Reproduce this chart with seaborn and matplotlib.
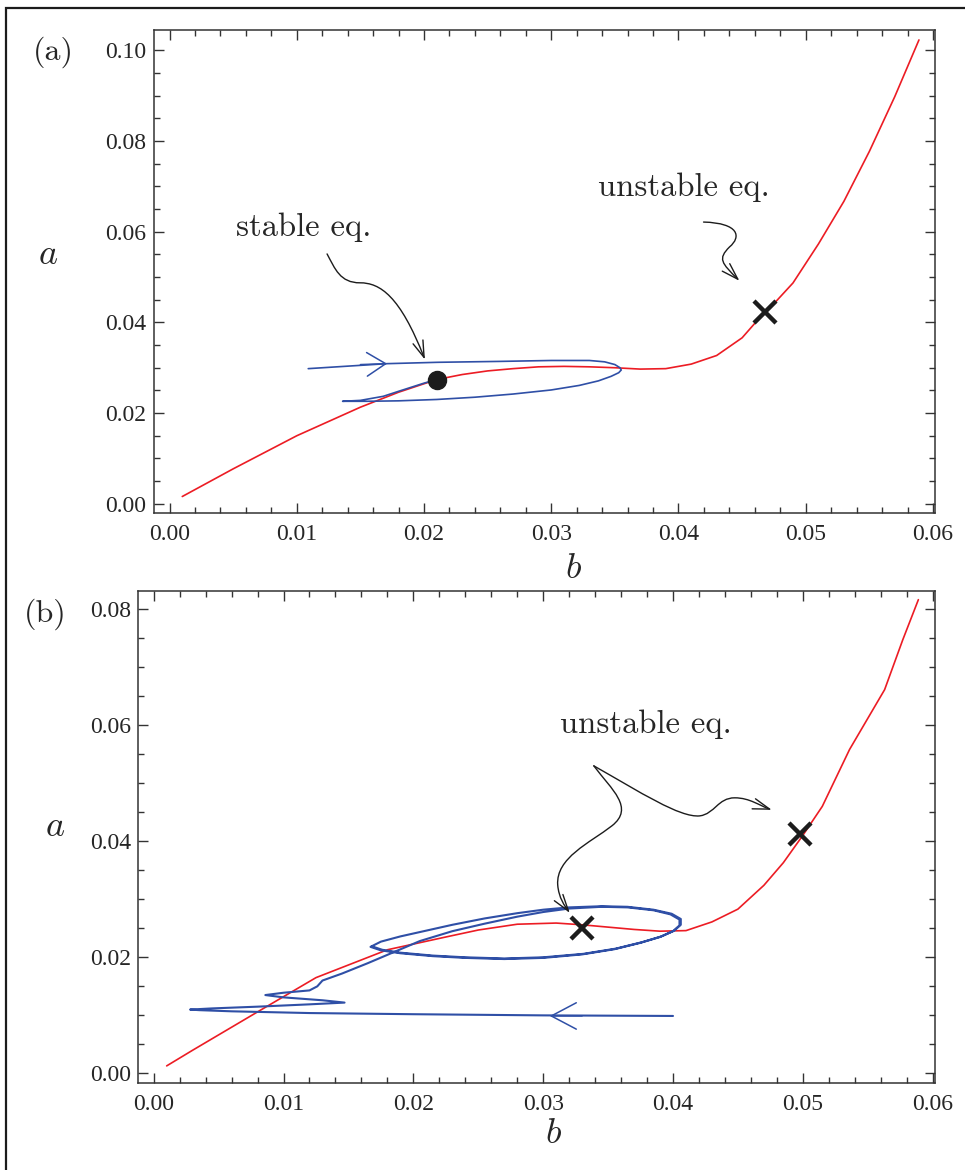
import seaborn as sns
import matplotlib.pyplot as plt
from matplotlib.path import Path
from matplotlib.patches import FancyArrowPatch, Rectangle
from matplotlib.ticker import MultipleLocator, FormatStrFormatter

# ---- panel (a) data ----
red_a_b = [0.001, 0.005, 0.010, 0.015, 0.018, 0.021, 0.023, 0.025, 0.027, 0.029,
           0.031, 0.033, 0.035, 0.037, 0.039, 0.041, 0.043, 0.045, 0.046, 0.047,
           0.049, 0.051, 0.053, 0.055, 0.057, 0.0589]
red_a_a = [0.0016, 0.0077, 0.0150, 0.0213, 0.0246, 0.0274, 0.0285, 0.0293, 0.0298, 0.0302,
           0.0303, 0.0302, 0.0300, 0.0297, 0.0298, 0.0308, 0.0327, 0.0366, 0.0398, 0.0426,
           0.0487, 0.0573, 0.0667, 0.0777, 0.0898, 0.1023]

blue_a_b = [0.0109, 0.0171, 0.0211, 0.0260, 0.0300, 0.0330, 0.0342, 0.0350, 0.0354, 0.0355,
            0.0353, 0.0347, 0.0337, 0.0322, 0.0300, 0.0270, 0.0240, 0.0210, 0.0180, 0.0155,
            0.0136, 0.0150, 0.0168, 0.0180, 0.0190, 0.0200, 0.0210]
blue_a_a = [0.0298, 0.0309, 0.0312, 0.0314, 0.0316, 0.0316, 0.0313, 0.0307, 0.0300, 0.0295,
            0.0289, 0.0281, 0.0271, 0.0261, 0.0251, 0.0242, 0.0235, 0.0230, 0.0227, 0.0226,
            0.0226, 0.0228, 0.0237, 0.0248, 0.0257, 0.0266, 0.0274]

stable_a = (0.0210, 0.0274)
unstable_a = (0.0468, 0.0424)

# ---- panel (b) data ----
red_b_b = [0.001, 0.003, 0.008, 0.0125, 0.018, 0.0225, 0.025, 0.028, 0.031, 0.033,
           0.035, 0.037, 0.039, 0.041, 0.043, 0.045, 0.047, 0.0485, 0.050, 0.0515,
           0.0536, 0.0563, 0.0577, 0.0589]
red_b_a = [0.0013, 0.0040, 0.0106, 0.0165, 0.0213, 0.0235, 0.0247, 0.0257, 0.0259, 0.0256,
           0.0252, 0.0248, 0.0245, 0.0246, 0.0261, 0.0283, 0.0324, 0.0363, 0.0410, 0.0460,
           0.0558, 0.0661, 0.0747, 0.0816]

blue_b_b = [0.0400, 0.0300, 0.0200, 0.0120, 0.0060, 0.0035, 0.0028,
            0.0045, 0.0080, 0.0120, 0.0147,
            0.0130, 0.0100, 0.0086,
            0.0100, 0.0120, 0.0126, 0.0130, 0.0145, 0.0165, 0.0185, 0.0205,
            0.0230, 0.0255, 0.0280, 0.0300, 0.0320, 0.0345, 0.0365, 0.0385, 0.0398,
            0.0405, 0.0405, 0.0400, 0.0390, 0.0375, 0.0355, 0.0330, 0.0300, 0.0270,
            0.0240, 0.0215, 0.0190, 0.0175, 0.0167,
            0.0175, 0.0190, 0.0210, 0.0230, 0.0255, 0.0280, 0.0300, 0.0320, 0.0345,
            0.0365, 0.0385, 0.0399, 0.0406, 0.0406, 0.0401, 0.0391, 0.0376, 0.0356,
            0.0331, 0.0300, 0.0270, 0.0240, 0.0215, 0.0190, 0.0176, 0.0168]
blue_b_a = [0.0099, 0.0100, 0.0102, 0.0104, 0.0107, 0.0109, 0.0110,
            0.0112, 0.0115, 0.0119, 0.0122,
            0.0126, 0.0131, 0.0135,
            0.0139, 0.0143, 0.0150, 0.0160, 0.0172, 0.0190, 0.0209, 0.0228,
            0.0245, 0.0258, 0.0270, 0.0278, 0.0284, 0.0287, 0.0286, 0.0281, 0.0274,
            0.0265, 0.0255, 0.0245, 0.0235, 0.0225, 0.0214, 0.0205, 0.0199, 0.0197,
            0.0199, 0.0202, 0.0207, 0.0212, 0.0218,
            0.0227, 0.0236, 0.0246, 0.0256, 0.0267, 0.0276, 0.0282, 0.0286, 0.0288,
            0.0287, 0.0282, 0.0275, 0.0266, 0.0256, 0.0246, 0.0236, 0.0226, 0.0215,
            0.0206, 0.0200, 0.0198, 0.0200, 0.0203, 0.0208, 0.0213, 0.0219]

unstable_b_b = [0.0330, 0.0498]
unstable_b_a = [0.0250, 0.0413]

RED = '#EC1C24'
BLUE = '#2F4FA6'
INK = '#1c1c1c'

sns.set_style('ticks')
plt.rcParams['font.family'] = ['Liberation Serif', 'DejaVu Serif']
plt.rcParams['mathtext.fontset'] = 'cm'
plt.rcParams['axes.unicode_minus'] = False

fig = plt.figure(figsize=(9.65, 11.7), dpi=100)
ax1 = fig.add_axes([0.1591, 0.5613, 0.8098, 0.4131])
ax2 = fig.add_axes([0.1430, 0.0741, 0.8259, 0.4208])


def curvy_arrow(ax, pts):
    codes = [Path.MOVETO] + [Path.CURVE4] * (len(pts) - 1)
    arr = FancyArrowPatch(path=Path(pts, codes),
                          arrowstyle='->,head_length=12,head_width=3.8',
                          mutation_scale=1, lw=1.0, color=INK,
                          transform=ax.transData, zorder=5)
    ax.add_patch(arr)


def chevron(ax, start, tip, hl, hw):
    arr = FancyArrowPatch(start, tip, arrowstyle=f'->,head_length={hl},head_width={hw}',
                          mutation_scale=1, lw=1.1, color=BLUE,
                          shrinkA=0, shrinkB=0, zorder=3)
    ax.add_patch(arr)


def style_axes(ax, xlim, ylim):
    ax.set_xlim(*xlim)
    ax.set_ylim(*ylim)
    ax.xaxis.set_major_locator(MultipleLocator(0.01))
    ax.xaxis.set_minor_locator(MultipleLocator(0.002))
    ax.yaxis.set_major_locator(MultipleLocator(0.02))
    ax.yaxis.set_minor_locator(MultipleLocator(0.005))
    ax.xaxis.set_major_formatter(FormatStrFormatter('%.2f'))
    ax.yaxis.set_major_formatter(FormatStrFormatter('%.2f'))
    ax.tick_params(which='both', direction='in', top=True, right=True,
                   color='#333333', width=1.0)
    ax.tick_params(which='major', length=7, labelsize=17, pad=5)
    ax.tick_params(axis='x', which='major', pad=8)
    ax.tick_params(which='minor', length=4)
    for sp in ax.spines.values():
        sp.set_linewidth(1.1)
        sp.set_color('#333333')


# ---- panel (a) ----
sns.lineplot(x=red_a_b, y=red_a_a, sort=False, estimator=None, color=RED, lw=1.2, ax=ax1)
sns.lineplot(x=blue_a_b, y=blue_a_a, sort=False, estimator=None, color=BLUE, lw=1.2, ax=ax1)
ax1.plot(*stable_a, 'o', color=INK, ms=13, zorder=6)
ax1.plot(*unstable_a, 'x', color=INK, ms=16, mew=3.2, zorder=6)
chevron(ax1, (0.0150, 0.0307), (0.0171, 0.0309), 13.5, 8.5)

ax1.text(0.01057, 0.0610, 'stable eq.', family='cmr10', fontsize=23.5, ha='center', va='center')
ax1.text(0.0404, 0.0699, 'unstable eq.', family='cmr10', fontsize=23.5, ha='center', va='center')
curvy_arrow(ax1, [(0.01238, 0.05510), (0.01301, 0.05180), (0.01340, 0.04873), (0.01497, 0.04873),
                  (0.01654, 0.04873), (0.01811, 0.04587), (0.02007, 0.03180)])
curvy_arrow(ax1, [(0.04197, 0.06213), (0.04479, 0.06191), (0.04495, 0.05884), (0.04401, 0.05664),
                  (0.04307, 0.05400), (0.04338, 0.05312), (0.04479, 0.04917)])

style_axes(ax1, (-0.00126, 0.06016), (-0.0021, 0.1045))
ax1.set_xlabel('$b$', fontsize=26, va='center')
ax1.set_ylabel('$a$', fontsize=26, rotation=0, ha='center', va='center')
ax1.xaxis.set_label_coords(0.537, -0.117)
ax1.yaxis.set_label_coords(-0.135, 0.534)

# ---- panel (b) ----
sns.lineplot(x=red_b_b, y=red_b_a, sort=False, estimator=None, color=RED, lw=1.2, ax=ax2)
sns.lineplot(x=blue_b_b, y=blue_b_a, sort=False, estimator=None, color=BLUE, lw=1.5, ax=ax2)
ax2.plot(unstable_b_b, unstable_b_a, 'x', color=INK, ms=16, mew=3.2, ls='none', zorder=6)
chevron(ax2, (0.0330, 0.0099), (0.0305, 0.0099), 18, 9.5)

ax2.text(0.0379, 0.0602, 'unstable eq.', family='cmr10', fontsize=23.5, ha='center', va='center')
curvy_arrow(ax2, [(0.03390, 0.05298), (0.03529, 0.04884), (0.03706, 0.04574), (0.03529, 0.04264),
                  (0.03359, 0.03971), (0.03097, 0.03712), (0.03112, 0.03247),
                  (0.03120, 0.03022), (0.03166, 0.02884), (0.03205, 0.02764)])
curvy_arrow(ax2, [(0.03390, 0.05298), (0.03744, 0.04850), (0.04052, 0.04402), (0.04206, 0.04436),
                  (0.04322, 0.04471), (0.04345, 0.04747), (0.04476, 0.04747),
                  (0.04592, 0.04747), (0.04669, 0.04609), (0.04761, 0.04540)])

style_axes(ax2, (-0.00121, 0.06018), (-0.0017, 0.0831))
ax2.set_xlabel('$b$', fontsize=26, va='center')
ax2.set_ylabel('$a$', fontsize=26, rotation=0, ha='center', va='center')
ax2.xaxis.set_label_coords(0.521, -0.105)
ax2.yaxis.set_label_coords(-0.104, 0.519)

# panel letters and outer frame
fig.text(0.055, 0.9556, '(a)', family='cmr10', fontsize=23, ha='center', va='center')
fig.text(0.0466, 0.4752, '(b)', family='cmr10', fontsize=23, ha='center', va='center')
fig.add_artist(Rectangle((0.0062, -0.02), 1.1, 0.9932 + 0.02, transform=fig.transFigure,
                         fill=False, lw=1.6, edgecolor=INK, clip_on=False))

fig.savefig('out.png', dpi=100)
